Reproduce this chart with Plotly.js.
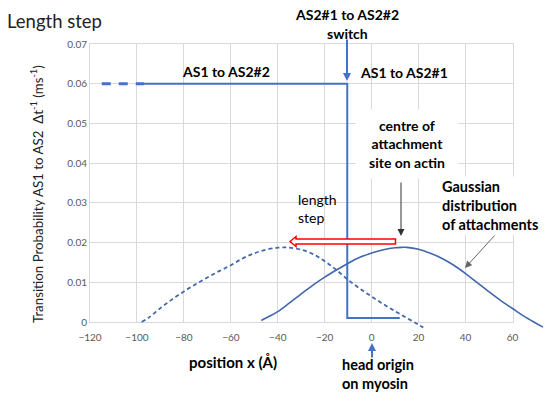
<!DOCTYPE html>
<html>
<head>
<meta charset="utf-8">
<script src="https://cdn.plot.ly/plotly-3.0.1.min.js"></script>
<style>html,body{margin:0;padding:0;background:#fff}#chart{width:550px;height:397px}</style>
</head>
<body>
<div id="chart"></div>
<script>
// ---- data ----
const xTicks = [-120, -100, -80, -60, -40, -20, 0, 20, 40, 60];
const yTicks = [0, 0.01, 0.02, 0.03, 0.04, 0.05, 0.06, 0.07];

// AS1 -> AS2 transition probability (step function)
const stepX = [-97, -10.4, -10.4, 12];
const stepY = [0.06, 0.06, 0.001, 0.001];
const stepExtX = [-115, -97];
const stepExtY = [0.06, 0.06];

// Gaussian distribution of attachments (solid, before length step)
const gaussX = [-47, -45, -40, -35, -30, -25, -20, -15, -10, -5, 0, 5, 10, 13, 15, 20, 25, 30, 35, 40, 45, 50, 55, 60, 65, 70, 73];
const gaussY = [0.0004, 0.001, 0.0026, 0.0048, 0.0071, 0.0093, 0.0113, 0.0131, 0.0148, 0.0163, 0.0174, 0.0182, 0.0187, 0.0188, 0.0188, 0.0183, 0.0173, 0.016, 0.0143, 0.0122, 0.0099, 0.0076, 0.0054, 0.0034, 0.0014, -0.0003, -0.0013];

// Gaussian after the length step (dashed)
const gaussShiftX = [-98, -95, -90, -85, -80, -75, -70, -65, -60, -55, -50, -45, -40, -37, -35, -30, -25, -20, -15, -10, -5, 0, 5, 10, 15, 20, 22];
const gaussShiftY = [0, 0.0011, 0.0035, 0.0057, 0.0077, 0.0095, 0.0112, 0.0128, 0.0143, 0.016, 0.0173, 0.0182, 0.0187, 0.0188, 0.0187, 0.0182, 0.0171, 0.0153, 0.0131, 0.0106, 0.0084, 0.0064, 0.0045, 0.0027, 0.001, -0.0007, -0.0014];

// ---- layout geometry (pixels) ----
const L = 90, T = 44, B = 60, W = 550, H = 397;
const plotW = W - L, plotH = H - T - B;        // 460 x 293
const axRightPx = 512.5, axBottomPx = 322;
const xMin = -120, xMax = 60, yMin = 0, yMax = 0.07;
const pxPerX = (axRightPx - L) / (xMax - xMin);
const pxPerY = (axBottomPx - T) / (yMax - yMin);
const P = x => (x - L) / plotW;
const Q = y => (H - B - y) / plotH;

const blue = '#4472C4', gblue = '#4266AC';
const font = 'Lato, "Open Sans", sans-serif';

const traces = [
  {x: stepExtX, y: stepExtY, mode: 'lines', line: {color: blue, width: 3, dash: '9px,8px'}, hoverinfo: 'skip'},
  {x: stepX, y: stepY, mode: 'lines', line: {color: blue, width: 2}, hoverinfo: 'skip'},
  {x: gaussShiftX, y: gaussShiftY, mode: 'lines', line: {color: gblue, width: 1.8, dash: '4px,3px', shape: 'spline'}, xaxis: 'x2', yaxis: 'y2', hoverinfo: 'skip'},
  {x: gaussX, y: gaussY, mode: 'lines', line: {color: gblue, width: 1.6, shape: 'spline'}, xaxis: 'x2', yaxis: 'y2', hoverinfo: 'skip'}
];

function txt(s, xpx, ypx, opts) {
  return Object.assign({xref: 'paper', yref: 'paper', x: P(xpx), y: Q(ypx), showarrow: false,
    xanchor: 'center', yanchor: 'middle',
    text: s, font: {family: font, size: 14, color: '#000'}}, opts || {});
}
function arrow(x0, y0, x1, y1, color, width, size) {
  return {xref: 'paper', yref: 'paper', x: P(x1), y: Q(y1), ax: x0 - x1, ay: y0 - y1,
    showarrow: true, text: '', arrowhead: 2, arrowsize: size || 1, arrowwidth: width, arrowcolor: color};
}

const redPts = [[290, 241.5], [296, 236.5], [296, 239], [395.5, 239], [395.5, 244], [296, 244], [296, 246.5]];
const redPath = 'M' + redPts.map(p => P(p[0]).toFixed(5) + ',' + Q(p[1]).toFixed(5)).join(' L') + ' Z';

const annotations = [
  txt('Length step', 5, 21, {xanchor: 'left', font: {family: font, size: 18.5, color: '#222'}}),
  txt('Transition Probability AS1 to AS2&nbsp;&nbsp;Δt<sup>-1</sup> (ms<sup>-1</sup>)', 37, 194, {textangle: -90, font: {family: font, size: 13.3, color: '#222'}}),
  txt('<b>position x (Å)</b>', 233, 362, {font: {family: font, size: 15, color: '#000'}}),
  txt('<b>AS2#1 to AS2#2</b>', 347, 14),
  txt('<b>switch</b>', 347, 33),
  txt('<b>AS1 to AS2#1</b>', 404, 72),
  txt('<b>AS1 to AS2#2</b>', 226, 71),
  txt('<b>centre of<br>attachment<br>site on actin</b>', 407, 144, {bgcolor: '#fff', width: 100, height: 66, borderpad: 1}),
  txt('<b>Gaussian<br>distribution<br>of attachments</b>', 440, 205, {xanchor: 'left', align: 'left', bgcolor: '#fff', font: {family: font, size: 14.5, color: '#000'}}),
  txt('length<br>step', 296, 209, {xanchor: 'left', align: 'left', font: {family: font, size: 14, color: '#000'}}),
  txt('<b>head origin<br>on myosin</b>', 340, 374, {xanchor: 'left', align: 'left', font: {family: font, size: 14.5, color: '#000'}}),
  arrow(347, 38, 347, 81, blue, 2, 0.8),
  arrow(401, 181, 401, 236, '#333', 1, 1.4),
  arrow(496, 234, 465, 268, '#666', 1, 1.4),
  arrow(372, 359, 372, 343, blue, 2, 0.8)
];

const layout = {
  width: W, height: H,
  margin: {l: L, r: 0, t: T, b: B, pad: 0},
  paper_bgcolor: '#fff', plot_bgcolor: 'rgba(0,0,0,0)',
  showlegend: false,
  xaxis: {domain: [0, (axRightPx - L) / plotW], range: [xMin, xMax], tickvals: xTicks,
    showgrid: true, gridcolor: '#D9D9D9', gridwidth: 1, zeroline: false,
    showline: true, mirror: true, linecolor: '#D9D9D9', linewidth: 1, ticks: '', ticklabelstandoff: 6,
    tickfont: {family: font, size: 10, color: '#595959'}, anchor: 'y'},
  yaxis: {domain: [Q(axBottomPx), 1], range: [yMin, yMax], tickvals: yTicks,
    showgrid: true, gridcolor: '#D9D9D9', gridwidth: 1, zeroline: false,
    showline: true, mirror: true, linecolor: '#D9D9D9', linewidth: 1, ticks: '',
    tickfont: {family: font, size: 10, color: '#595959'}, anchor: 'x'},
  xaxis2: {domain: [0, 1], range: [xMin, xMin + plotW / pxPerX], visible: false, anchor: 'y2'},
  yaxis2: {domain: [0, 1], range: [yMax - (H - B - T) / pxPerY, yMax], visible: false, anchor: 'x2'},
  annotations: annotations,
  shapes: [{type: 'path', xref: 'paper', yref: 'paper', path: redPath,
    line: {color: '#FF0000', width: 1.5}, fillcolor: '#fff', layer: 'above'}]
};

Plotly.newPlot('chart', traces, layout, {displayModeBar: false, staticPlot: true});
</script>
</body>
</html>
